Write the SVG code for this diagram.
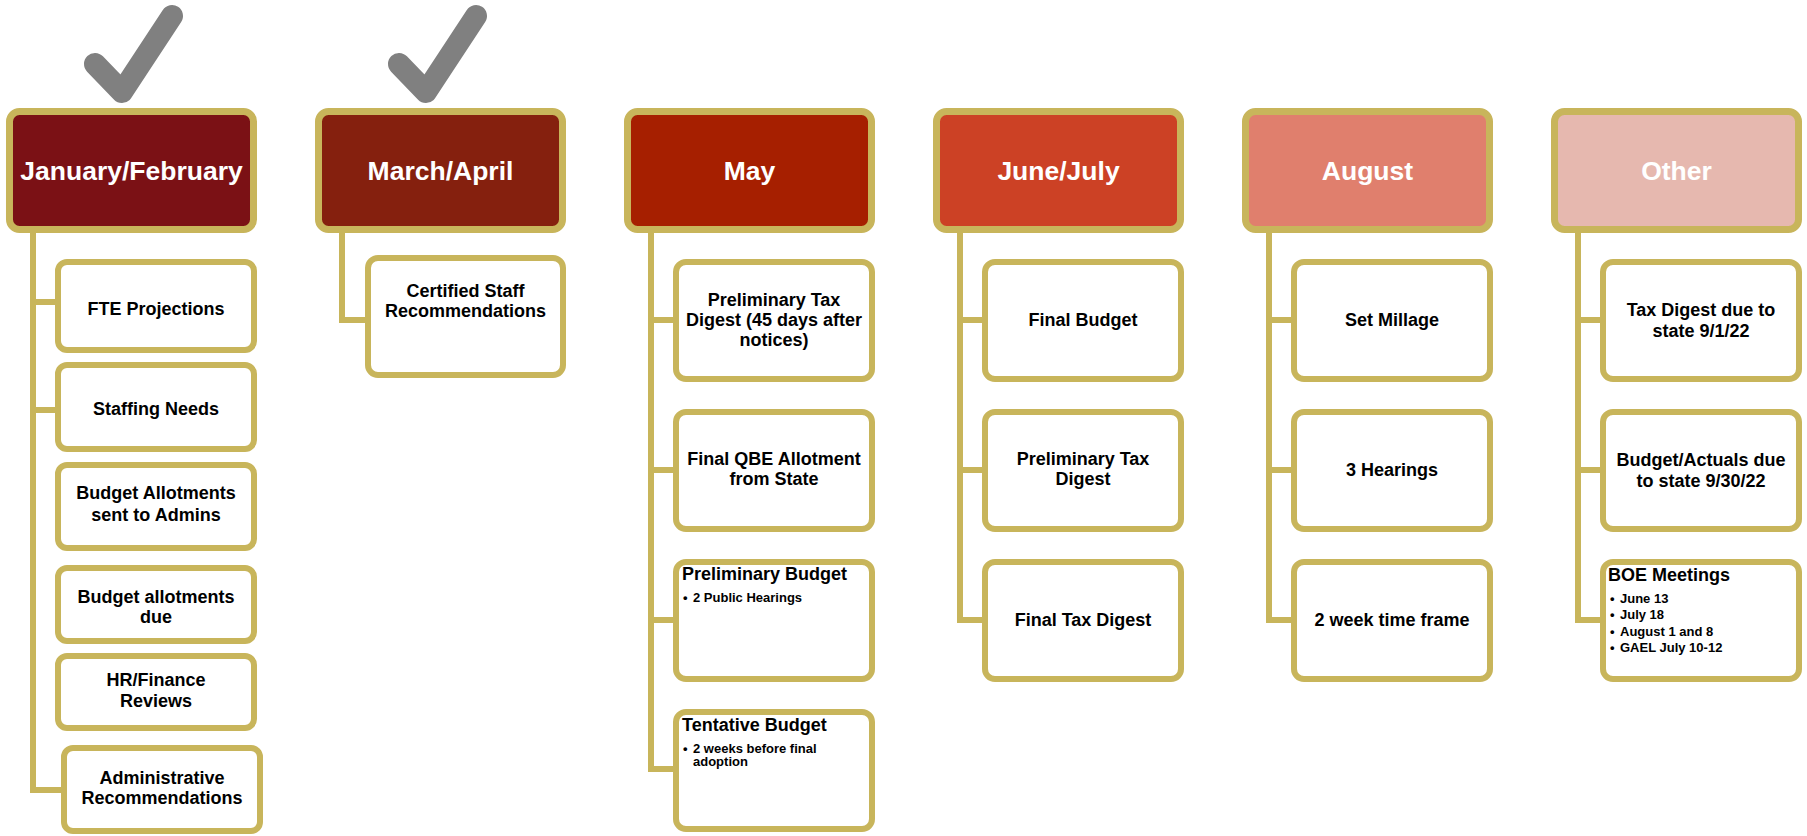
<svg xmlns="http://www.w3.org/2000/svg" width="1807" height="836" viewBox="0 0 1807 836">
<style>
text{font-family:"Liberation Sans",Arial,sans-serif;font-weight:bold;}
.hd{stroke:#c8b55b;stroke-width:7;}
.hdt{fill:#ffffff;font-size:26.5px;text-anchor:middle;}
.bx{fill:#ffffff;stroke:#c8b55b;stroke-width:6;}
.bt{fill:#000000;font-size:18px;text-anchor:middle;}
.tt{fill:#000000;font-size:18px;}
.bl{fill:#000000;font-size:13px;}
.cn{fill:none;stroke:#c8b55b;stroke-width:6;}
.ck{fill:none;stroke:#808080;stroke-width:22;stroke-linecap:round;stroke-linejoin:round;}
</style>
<rect width="1807" height="836" fill="#ffffff"/>
<g id="checks">
<polyline class="ck" points="95,64 122,92 172,16"/>
<polyline class="ck" points="399,64 426,92 476,16"/>
</g>
<g id="connectors">
<path class="cn" d="M33 233V790H61M33 302H58M33 410H58"/>
<path class="cn" d="M342 233V320H368"/>
<path class="cn" d="M651 233V769H676M651 320H676M651 470H676M651 620H676"/>
<path class="cn" d="M960 233V620H985M960 320H985M960 470H985"/>
<path class="cn" d="M1269 233V620H1294M1269 320H1294M1269 470H1294"/>
<path class="cn" d="M1578 233V620H1603M1578 320H1603M1578 470H1603"/>
</g>
<g id="h-janfeb"><rect class="hd" x="9.5" y="111.5" width="244" height="118" rx="10" fill="#7b1115"/><text class="hdt" x="131.5" y="180">January/February</text></g>
<g id="h-marapr"><rect class="hd" x="318.5" y="111.5" width="244" height="118" rx="10" fill="#85200e"/><text class="hdt" x="440.5" y="180">March/April</text></g>
<g id="h-may"><rect class="hd" x="627.5" y="111.5" width="244" height="118" rx="10" fill="#a61f00"/><text class="hdt" x="749.5" y="180">May</text></g>
<g id="h-junjul"><rect class="hd" x="936.5" y="111.5" width="244" height="118" rx="10" fill="#cc4125"/><text class="hdt" x="1058.5" y="180">June/July</text></g>
<g id="h-aug"><rect class="hd" x="1245.5" y="111.5" width="244" height="118" rx="10" fill="#e07f6d"/><text class="hdt" x="1367.5" y="180">August</text></g>
<g id="h-other"><rect class="hd" x="1554.5" y="111.5" width="244" height="118" rx="10" fill="#e6b8af"/><text class="hdt" x="1676.5" y="180">Other</text></g>

<g id="n-fte"><rect class="bx" x="58" y="262" width="196" height="88" rx="9"/><text class="bt" x="156" y="315">FTE Projections</text></g>
<g id="n-staffing"><rect class="bx" x="58" y="365" width="196" height="84" rx="9"/><text class="bt" x="156" y="415">Staffing Needs</text></g>
<g id="n-budgetallot"><rect class="bx" x="58" y="465" width="196" height="83" rx="9"/><text class="bt" x="156" y="499">Budget Allotments</text><text class="bt" x="156" y="521">sent to Admins</text></g>
<g id="n-allotdue"><rect class="bx" x="58" y="568" width="196" height="73" rx="9"/><text class="bt" x="156" y="603">Budget allotments</text><text class="bt" x="156" y="623">due</text></g>
<g id="n-hrfin"><rect class="bx" x="58" y="656" width="196" height="72" rx="9"/><text class="bt" x="156" y="686">HR/Finance</text><text class="bt" x="156" y="707">Reviews</text></g>
<g id="n-admin"><rect class="bx" x="64" y="748" width="196" height="83" rx="9"/><text class="bt" x="162" y="784">Administrative</text><text class="bt" x="162" y="804">Recommendations</text></g>

<g id="n-certified"><rect class="bx" x="368" y="258" width="195" height="117" rx="10"/><text class="bt" x="465.5" y="297">Certified Staff</text><text class="bt" x="465.5" y="317">Recommendations</text></g>

<g id="n-prelimtax"><rect class="bx" x="676" y="262" width="196" height="117" rx="10"/><text class="bt" x="774" y="306">Preliminary Tax</text><text class="bt" x="774" y="326">Digest (45 days after</text><text class="bt" x="774" y="346">notices)</text></g>
<g id="n-qbe"><rect class="bx" x="676" y="412" width="196" height="117" rx="10"/><text class="bt" x="774" y="465">Final QBE Allotment</text><text class="bt" x="774" y="485">from State</text></g>
<g id="n-prelimbudget"><rect class="bx" x="676" y="562" width="196" height="117" rx="10"/><text class="tt" x="682" y="580">Preliminary Budget</text><text class="bl" x="683" y="602">•</text><text class="bl" x="693" y="602">2 Public Hearings</text></g>
<g id="n-tentative"><rect class="bx" x="676" y="712" width="196" height="117" rx="10"/><text class="tt" x="682" y="731">Tentative Budget</text><text class="bl" x="683" y="753">•</text><text class="bl" x="693" y="753">2 weeks before final</text><text class="bl" x="693" y="766">adoption</text></g>

<g id="n-finalbudget"><rect class="bx" x="985" y="262" width="196" height="117" rx="10"/><text class="bt" x="1083" y="326">Final Budget</text></g>
<g id="n-prelimtax2"><rect class="bx" x="985" y="412" width="196" height="117" rx="10"/><text class="bt" x="1083" y="465">Preliminary Tax</text><text class="bt" x="1083" y="485">Digest</text></g>
<g id="n-finaltax"><rect class="bx" x="985" y="562" width="196" height="117" rx="10"/><text class="bt" x="1083" y="626">Final Tax Digest</text></g>

<g id="n-millage"><rect class="bx" x="1294" y="262" width="196" height="117" rx="10"/><text class="bt" x="1392" y="326">Set Millage</text></g>
<g id="n-hearings"><rect class="bx" x="1294" y="412" width="196" height="117" rx="10"/><text class="bt" x="1392" y="476">3 Hearings</text></g>
<g id="n-timeframe"><rect class="bx" x="1294" y="562" width="196" height="117" rx="10"/><text class="bt" x="1392" y="626">2 week time frame</text></g>

<g id="n-taxdue"><rect class="bx" x="1603" y="262" width="196" height="117" rx="10"/><text class="bt" x="1701" y="316">Tax Digest due to</text><text class="bt" x="1701" y="337">state 9/1/22</text></g>
<g id="n-actuals"><rect class="bx" x="1603" y="412" width="196" height="117" rx="10"/><text class="bt" x="1701" y="466">Budget/Actuals due</text><text class="bt" x="1701" y="487">to state 9/30/22</text></g>
<g id="n-boe"><rect class="bx" x="1603" y="562" width="196" height="117" rx="10"/><text class="tt" x="1608" y="581">BOE Meetings</text><text class="bl" x="1610" y="603">•</text><text class="bl" x="1620" y="603">June 13</text><text class="bl" x="1610" y="619">•</text><text class="bl" x="1620" y="619">July 18</text><text class="bl" x="1610" y="636">•</text><text class="bl" x="1620" y="636">August 1 and 8</text><text class="bl" x="1610" y="652">•</text><text class="bl" x="1620" y="652">GAEL July 10-12</text></g>
</svg>
